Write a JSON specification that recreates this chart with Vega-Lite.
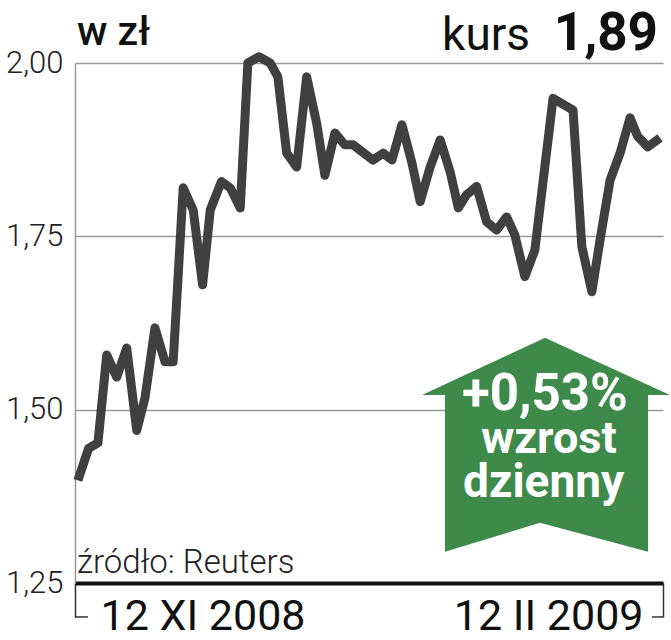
{
  "$schema": "https://vega.github.io/schema/vega-lite/v6.json",
  "width": 588,
  "height": 520,
  "autosize": {"type": "none"},
  "padding": {"left": 75, "top": 63, "right": 8, "bottom": 57},
  "background": "white",
  "config": {"view": {"stroke": null}, "font": "Roboto"},
  "data": {"values": [
    {"t": 0.5, "v": 1.398}, {"t": 2.3, "v": 1.444}, {"t": 3.9, "v": 1.452}, {"t": 5.4, "v": 1.579},
    {"t": 7.1, "v": 1.547}, {"t": 8.8, "v": 1.589}, {"t": 10.5, "v": 1.470}, {"t": 11.9, "v": 1.517},
    {"t": 13.6, "v": 1.618}, {"t": 15.3, "v": 1.569}, {"t": 16.7, "v": 1.569}, {"t": 18.4, "v": 1.820},
    {"t": 20.1, "v": 1.788}, {"t": 21.7, "v": 1.680}, {"t": 23.0, "v": 1.788}, {"t": 24.9, "v": 1.829},
    {"t": 26.4, "v": 1.820}, {"t": 28.1, "v": 1.791}, {"t": 29.4, "v": 2.000}, {"t": 31.3, "v": 2.009},
    {"t": 33.2, "v": 2.000}, {"t": 34.5, "v": 1.980}, {"t": 36.0, "v": 1.870}, {"t": 37.7, "v": 1.850},
    {"t": 39.4, "v": 1.980}, {"t": 41.1, "v": 1.913}, {"t": 42.5, "v": 1.838}, {"t": 44.2, "v": 1.899},
    {"t": 45.9, "v": 1.882}, {"t": 47.3, "v": 1.882}, {"t": 50.7, "v": 1.860}, {"t": 52.4, "v": 1.870},
    {"t": 53.9, "v": 1.860}, {"t": 55.6, "v": 1.911}, {"t": 57.3, "v": 1.856}, {"t": 58.7, "v": 1.800},
    {"t": 60.4, "v": 1.850}, {"t": 62.1, "v": 1.889}, {"t": 63.8, "v": 1.843}, {"t": 65.2, "v": 1.791},
    {"t": 66.6, "v": 1.810}, {"t": 68.3, "v": 1.822}, {"t": 70.0, "v": 1.771}, {"t": 71.7, "v": 1.759},
    {"t": 73.4, "v": 1.778}, {"t": 74.8, "v": 1.752}, {"t": 76.5, "v": 1.692}, {"t": 78.2, "v": 1.730},
    {"t": 81.3, "v": 1.949}, {"t": 84.7, "v": 1.932}, {"t": 86.2, "v": 1.735}, {"t": 87.9, "v": 1.670},
    {"t": 89.3, "v": 1.745}, {"t": 91.0, "v": 1.831}, {"t": 92.7, "v": 1.870}, {"t": 94.4, "v": 1.921},
    {"t": 95.7, "v": 1.894}, {"t": 97.4, "v": 1.879}, {"t": 99.5, "v": 1.892}
  ]},
  "layer": [
    {
      "mark": {"type": "line", "color": "#404040", "strokeWidth": 9, "strokeJoin": "round", "strokeCap": "butt"},
      "encoding": {
        "x": {"field": "t", "type": "quantitative",
          "scale": {"domain": [0, 100], "nice": false, "zero": false},
          "axis": {"values": [0, 100], "title": null, "grid": false,
            "domainColor": "#111111", "domainWidth": 4,
            "tickColor": "#333333", "tickWidth": 1.5, "tickSize": 34,
            "labelExpr": "datum.value == 0 ? '12 XI 2008' : '12 II 2009'",
            "labelAlign": {"condition": {"test": "datum.value == 0", "value": "left"}, "value": "right"},
            "labelOffset": {"condition": {"test": "datum.value == 0", "value": 25}, "value": -20},
            "labelBaseline": "alphabetic", "labelPadding": 12, "labelFontSize": 43,
            "labelColor": "#111111", "labelFont": "Roboto", "labelLimit": 0,
            "labelFlush": false, "labelOverlap": false, "labelBound": false}},
        "y": {"field": "v", "type": "quantitative",
          "scale": {"domain": [1.25, 2.0], "nice": false, "zero": false},
          "axis": {"values": [1.25, 1.5, 1.75, 2.0], "title": null, "grid": true,
            "gridColor": "#9a9a9a", "gridWidth": 1.5,
            "domainColor": "#9a9a9a", "domainWidth": 1.5, "ticks": false,
            "labelPadding": 12, "labelFontSize": 31, "labelFontWeight": 300, "labelColor": "#222222",
            "labelFont": "Roboto", "labelBaseline": "middle",
            "labelExpr": "replace(format(datum.value, '.2f'), '.', ',')"}}
      }
    },
    {
      "data": {"values": [{}]},
      "mark": {"type": "rule", "color": "#333333", "strokeWidth": 1.5},
      "encoding": {"x": {"datum": 0}, "x2": {"datum": 2.2}, "y": {"datum": 1.201}}
    },
    {
      "data": {"values": [{}]},
      "mark": {"type": "rule", "color": "#333333", "strokeWidth": 1.5},
      "encoding": {"x": {"datum": 98.1}, "x2": {"datum": 100}, "y": {"datum": 1.201}}
    },
    {
      "data": {"values": [{}]},
      "mark": {"type": "point", "filled": true, "color": "#3e8a4a", "opacity": 1, "strokeWidth": 0,
        "size": 61504,
        "shape": "M -0.008 -0.865 L 1 -0.403 L 0.823 -0.403 L 0.823 0.86 L -0.048 0.627 L -0.815 0.86 L -0.815 -0.403 L -1 -0.403 Z"},
      "encoding": {"x": {"datum": 80.1}, "y": {"datum": 1.449}}
    },
    {
      "data": {"values": [{}]},
      "mark": {"type": "text", "text": "+0,53%", "align": "center", "baseline": "alphabetic",
        "font": "Roboto", "fontSize": 51, "fontWeight": "bold", "color": "white"},
      "encoding": {"x": {"datum": 79.9}, "y": {"datum": 1.4995}}
    },
    {
      "data": {"values": [{}]},
      "mark": {"type": "text", "text": "wzrost", "align": "center", "baseline": "alphabetic",
        "font": "Roboto", "fontSize": 45, "fontWeight": "bold", "color": "white"},
      "encoding": {"x": {"datum": 80.6}, "y": {"datum": 1.4375}}
    },
    {
      "data": {"values": [{}]},
      "mark": {"type": "text", "text": "dzienny", "align": "center", "baseline": "alphabetic",
        "font": "Roboto", "fontSize": 46, "fontWeight": "bold", "color": "white"},
      "encoding": {"x": {"datum": 79.7}, "y": {"datum": 1.374}}
    },
    {
      "data": {"values": [{}]},
      "mark": {"type": "text", "text": "źródło: Reuters", "align": "left", "baseline": "alphabetic",
        "font": "Roboto", "fontSize": 33, "fontWeight": 300, "color": "#222222"},
      "encoding": {"x": {"datum": 0.34}, "y": {"datum": 1.2644}}
    },
    {
      "data": {"values": [{}]},
      "mark": {"type": "text", "text": "w zł", "align": "left", "baseline": "alphabetic",
        "font": "Roboto", "fontSize": 41, "fontWeight": 500, "color": "#111111"},
      "encoding": {"x": {"datum": 0.34}, "y": {"datum": 2.026}}
    },
    {
      "data": {"values": [{}]},
      "mark": {"type": "text", "text": "kurs", "align": "right", "baseline": "alphabetic",
        "font": "Roboto", "fontSize": 46, "color": "#111111"},
      "encoding": {"x": {"datum": 77.4}, "y": {"datum": 2.0188}}
    },
    {
      "data": {"values": [{}]},
      "mark": {"type": "text", "text": "1,89", "align": "right", "baseline": "alphabetic",
        "font": "Roboto", "fontSize": 53, "fontWeight": "bold", "color": "#111111"},
      "encoding": {"x": {"datum": 99.15}, "y": {"datum": 2.0188}}
    }
  ]
}
